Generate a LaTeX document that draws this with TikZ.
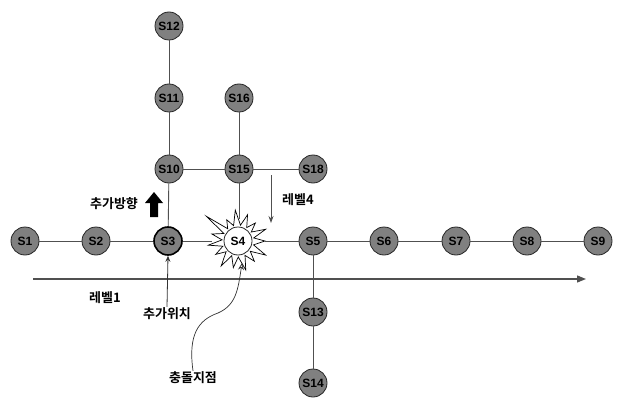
\documentclass[tikz,border=0pt]{standalone}
\usepackage{fontspec}
\setmainfont{Liberation Sans}
\newfontfamily\kr{Noto Sans CJK KR}[BoldFont={* Bold}]
\usetikzlibrary{arrows.meta}
\definecolor{nodegray}{RGB}{128,128,128}
\definecolor{linegray}{RGB}{80,80,80}
\begin{document}
\begin{tikzpicture}[x=1pt,y=-1pt,
  st/.style={circle,draw=black!85,line width=0.8pt,fill=nodegray,minimum size=28pt,inner sep=0pt,font=\bfseries\fontsize{12}{13}\selectfont},
  conn/.style={draw=linegray,line width=0.9pt},
  lbl/.style={font=\kr\bfseries\fontsize{13}{14}\selectfont,inner sep=1pt}]
\useasboundingbox (0,0) rectangle (617,398);
% star
\begin{scope}[shift={(238,241)},y=1pt]
\draw[fill=white,line width=0.7pt] (0:27)
  -- (11:16) -- (23:30) -- (34:16) -- (46:25) -- (57:16) -- (70:28) -- (81:16) -- (95:31)
  -- (106:16) -- (118:24) -- (130:16) -- (142:40) -- (152:16) -- (165:27) -- (176:16)
  -- (188:30) -- (199:16) -- (211:26) -- (222:16) -- (236:30) -- (247:16) -- (260:27)
  -- (271:16) -- (285:30) -- (296:16) -- (309:26) -- (320:16) -- (333:31) -- (346:16) -- cycle;
\end{scope}
% nodes
\node[st] (s1) at (25,241) {S1};
\node[st] (s2) at (96,241) {S2};
\node[st,line width=1.6pt,draw=black] (s3) at (168,241) {S3};
\node[st,fill=white] (s4) at (238,241) {S4};
\node[st] (s5) at (313,241) {S5};
\node[st] (s6) at (384,241) {S6};
\node[st] (s7) at (456,241) {S7};
\node[st] (s8) at (527,241) {S8};
\node[st] (s9) at (598,241) {S9};
\node[st] (s10) at (169,169) {S10};
\node[st] (s11) at (169,98) {S11};
\node[st] (s12) at (169,26) {S12};
\node[st] (s15) at (239,169) {S15};
\node[st] (s16) at (239,98) {S16};
\node[st] (s18) at (313,169) {S18};
\node[st] (s13) at (313,312) {S13};
\node[st] (s14) at (313,383) {S14};
\coordinate (s4top) at (239,219);
\coordinate (s4l) at (212,241);
\coordinate (s4r) at (265,241);
% connectors
\path[conn] (s1) -- (s2);
\path[conn] (s2) -- (s3);
\path[conn] (s3) -- (s4l);
\path[conn] (s4r) -- (s5);
\path[conn] (s5) -- (s6);
\path[conn] (s6) -- (s7);
\path[conn] (s7) -- (s8);
\path[conn] (s8) -- (s9);
\path[conn] (s12) -- (s11);
\path[conn] (s11) -- (s10);
\path[conn] (s10) -- (s3);
\path[conn] (s10) -- (s15);
\path[conn] (s15) -- (s18);
\path[conn] (s16) -- (s15);
\path[conn] (s15) -- (s4top);
\path[conn] (s5) -- (s13);
\path[conn] (s13) -- (s14);
% main arrow
\coordinate (a0) at (33,279);
\coordinate (a1) at (586,279);
\draw[draw=linegray,line width=1.3pt,-{Triangle[length=9pt,width=7pt]}] (a0) -- (a1);
\node[lbl] (lv1) at (105,298) {레벨1};
% level 4
\coordinate (l4a) at (271,175);
\coordinate (l4b) at (271,223);
\draw[draw=linegray,line width=0.9pt,-{Stealth[length=7pt,width=5pt]}] (l4a) -- (l4b);
\node[lbl] (lv4) at (298,200) {레벨4};
% add direction
\node[lbl] (dir) at (114,204) {추가방향};
\fill[black] (150,217) -- (150,203) -- (145,203) -- (154,192) -- (163,203) -- (158,203) -- (158,217) -- cycle;
% add position
\node[lbl] (pos) at (167,314) {추가위치};
\draw[draw=black!80,line width=0.8pt,-{Stealth[length=6pt,width=5pt]}] (pos.north) -- (s3.south);
% collision point
\node[lbl] (col) at (193,378) {충돌지점};
\coordinate (colend) at (242,263);
\draw[draw=black!80,line width=0.7pt,-{Stealth[open,length=7pt,width=6pt]}] (col.north) .. controls (188,335) and (198,320) .. (218,313) .. controls (236,305) and (238,290) .. (colend);
\end{tikzpicture}
\end{document}
